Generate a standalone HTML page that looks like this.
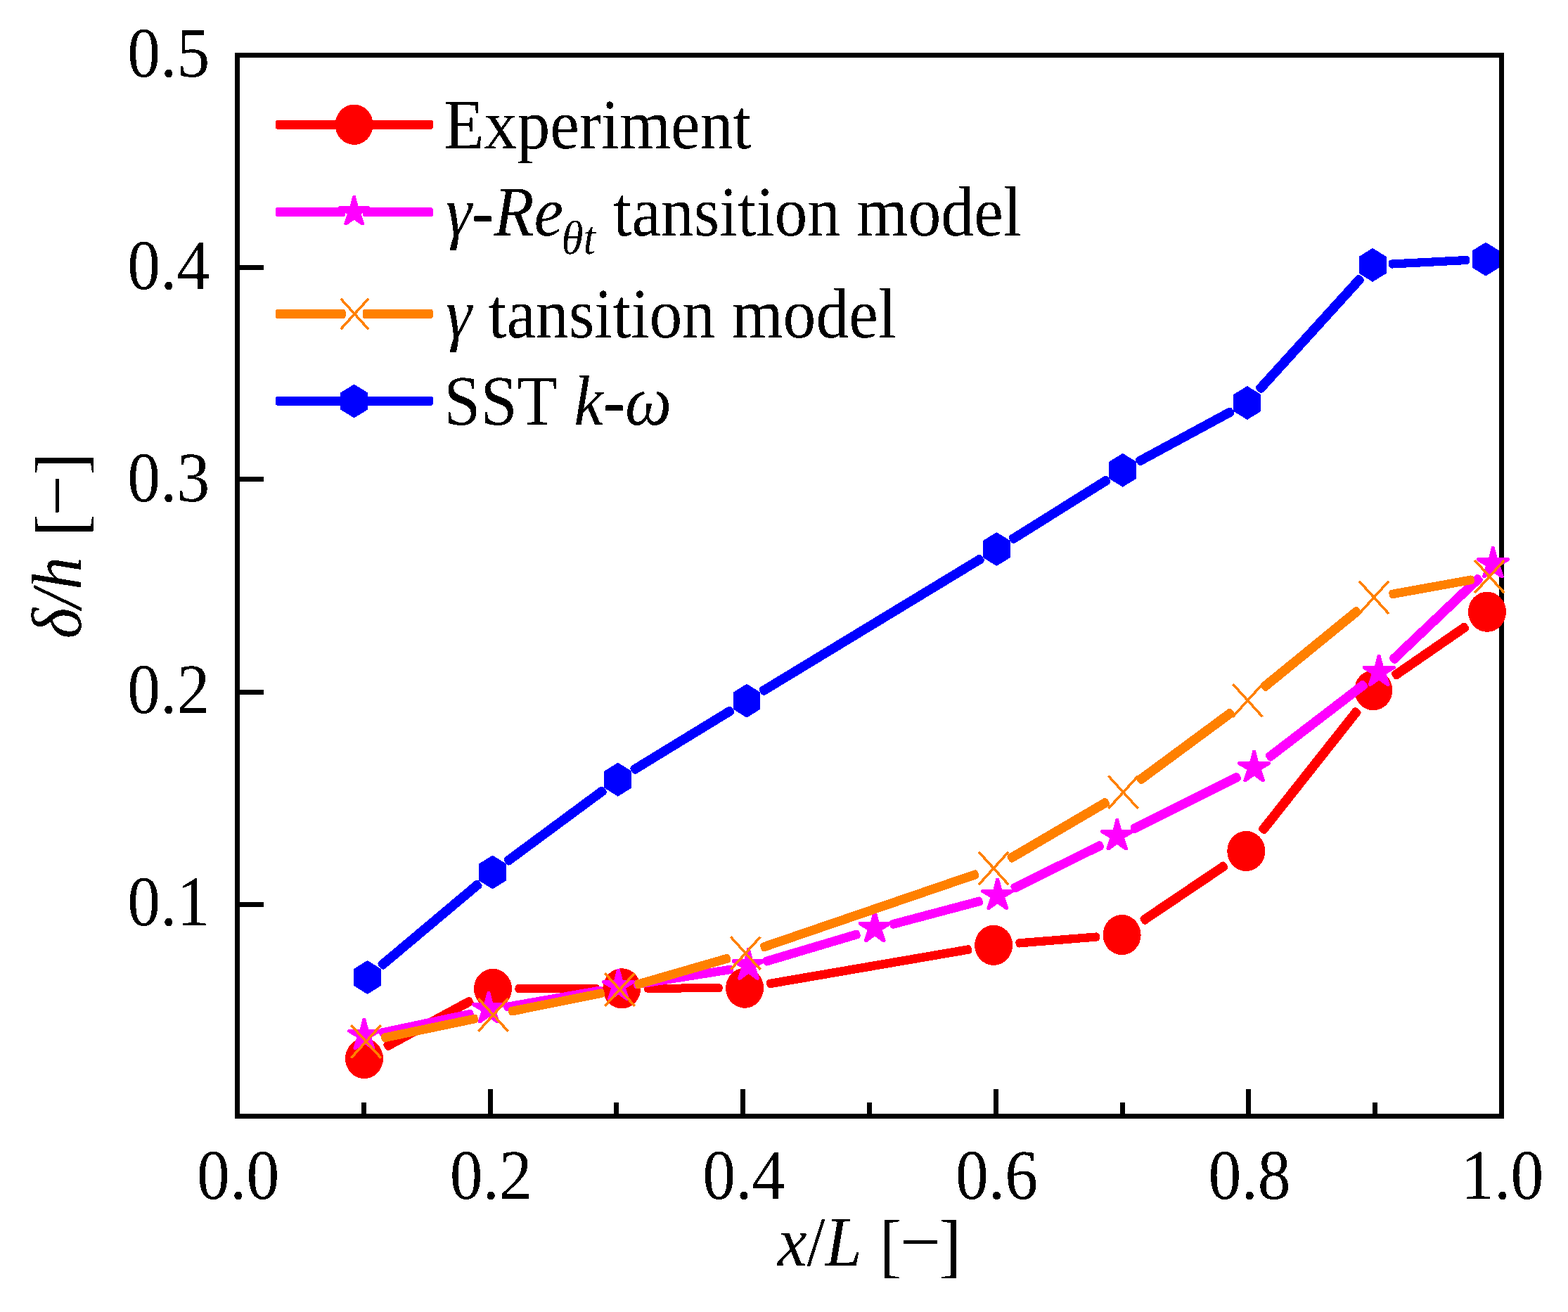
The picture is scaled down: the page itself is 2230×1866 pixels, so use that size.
<!DOCTYPE html>
<html lang="en"><head><meta charset="utf-8">
<title>Boundary layer thickness: experiment vs. transition models</title>
<style>
html,body{margin:0;padding:0;background:#fff;}
body{width:2230px;height:1866px;overflow:hidden;}
svg{display:block;}
text{font-family:"Liberation Serif","DejaVu Serif",serif;font-size:101px;fill:#000;font-kerning:none;text-rendering:geometricPrecision;}
.it{font-style:italic;}
.sub{font-size:68px;font-style:italic;}
</style></head><body>
<svg width="2230" height="1866" viewBox="0 0 2230 1866">
<defs><filter id="crisp" filterUnits="userSpaceOnUse" x="0" y="0" width="2230" height="1866" color-interpolation-filters="sRGB"><feComponentTransfer><feFuncA type="discrete" tableValues="0 1"/></feComponentTransfer></filter></defs>
<rect x="0" y="0" width="2230" height="1866" fill="#fff"/>
<g id="axes" shape-rendering="crispEdges" stroke="#000" stroke-width="7" fill="none">
<path d="M517.5 1587.5V1568M697.5 1587.5V1549M876.5 1587.5V1568M1056.5 1587.5V1549M1236.5 1587.5V1568M1416.5 1587.5V1549M1596.5 1587.5V1568M1775.5 1587.5V1549M1955.5 1587.5V1568M337.5 1286.5H375M337.5 984.5H375M337.5 681.5H375M337.5 380.5H375"/>
<rect x="337.5" y="78.5" width="1798" height="1509"/>
</g>
<g id="plot-data" shape-rendering="crispEdges">
<g id="series-experiment">
<rect x="546.9" y="1483.17" width="142.42" height="13.34" rx="4.6" fill="#ff0000" transform="rotate(-28.46 546.9 1489.84)"/>
<rect x="732.5" y="1400.21" width="120.3" height="12.01" rx="4.6" fill="#ff0000" transform="rotate(-0.16 732.5 1406.21)"/>
<rect x="915.8" y="1399.69" width="111.8" height="12.01" rx="4.6" fill="#ff0000" transform="rotate(-0.2 915.8 1405.69)"/>
<rect x="1090.29" y="1393.57" width="295.9" height="12.53" rx="4.6" fill="#ff0000" transform="rotate(-9.76 1090.29 1399.83)"/>
<rect x="1444.53" y="1335.64" width="120.02" height="12.26" rx="4.6" fill="#ff0000" transform="rotate(-4.61 1444.53 1341.77)"/>
<rect x="1623.39" y="1304.13" width="146.07" height="13.48" rx="4.6" fill="#ff0000" transform="rotate(-33.98 1623.39 1310.87)"/>
<rect x="1793.48" y="1176.95" width="223.48" height="13.56" rx="4.6" fill="#ff0000" transform="rotate(-51.65 1793.48 1183.73)"/>
<rect x="1980.95" y="955.89" width="129.24" height="13.5" rx="4.6" fill="#ff0000" transform="rotate(-34.59 1980.95 962.63)"/>
<ellipse cx="518" cy="1505.5" rx="27" ry="28.6" fill="#ff0000"/>
<ellipse cx="701" cy="1406.3" rx="27" ry="28.6" fill="#ff0000"/>
<ellipse cx="884.3" cy="1405.8" rx="27" ry="28.6" fill="#ff0000"/>
<ellipse cx="1059.1" cy="1405.2" rx="27" ry="28.6" fill="#ff0000"/>
<ellipse cx="1413.1" cy="1344.3" rx="27" ry="28.6" fill="#ff0000"/>
<ellipse cx="1595.6" cy="1329.6" rx="27" ry="28.6" fill="#ff0000"/>
<ellipse cx="1772.3" cy="1210.5" rx="27" ry="28.6" fill="#ff0000"/>
<ellipse cx="1953.3" cy="981.7" rx="27" ry="28.6" fill="#ff0000"/>
<ellipse cx="2115" cy="870.2" rx="27" ry="28.6" fill="#ff0000"/>
</g>
<g id="series-gamma-retheta">
<rect x="539.27" y="1463.25" width="137.24" height="12.65" rx="4.6" fill="#ff00ff" transform="rotate(-11.96 539.27 1469.57)"/>
<rect x="716.37" y="1426.56" width="143.82" height="12.54" rx="4.6" fill="#ff00ff" transform="rotate(-9.95 716.37 1432.83)"/>
<rect x="901.01" y="1394.53" width="143.76" height="12.5" rx="4.6" fill="#ff00ff" transform="rotate(-9.03 901.01 1400.78)"/>
<rect x="1085.56" y="1362.09" width="143.54" height="12.88" rx="4.6" fill="#ff00ff" transform="rotate(-16.58 1085.56 1368.53)"/>
<rect x="1265.39" y="1309.28" width="136.69" height="12.79" rx="4.6" fill="#ff00ff" transform="rotate(-14.86 1265.39 1315.68)"/>
<rect x="1438.79" y="1258.39" width="145.03" height="13.27" rx="4.6" fill="#ff00ff" transform="rotate(-26.39 1438.79 1265.03)"/>
<rect x="1608.87" y="1173.93" width="172.87" height="13.28" rx="4.6" fill="#ff00ff" transform="rotate(-26.54 1608.87 1180.57)"/>
<rect x="1802.06" y="1072.38" width="177.24" height="13.54" rx="4.6" fill="#ff00ff" transform="rotate(-37.46 1802.06 1079.15)"/>
<rect x="1978.54" y="933.96" width="175.6" height="13.6" rx="4.6" fill="#ff00ff" transform="rotate(-43.48 1978.54 940.76)"/>
<polygon points="515.9,1447.6 519.9,1447.6 524.1,1463.7 540.1,1463.7 541.5,1465 541.5,1467.4 539.9,1468.8 528.4,1475.6 533.4,1490.6 532.2,1492.8 529.2,1492.8 517.9,1484.6 506.6,1492.8 503.6,1492.8 502.4,1490.6 507.4,1475.6 495.9,1468.8 494.3,1467.4 494.3,1465 495.7,1463.7 511.7,1463.7" fill="#ff00ff"/>
<polygon points="692.9,1410.1 696.9,1410.1 701.1,1426.2 717.1,1426.2 718.5,1427.5 718.5,1429.9 716.9,1431.3 705.4,1438.1 710.4,1453.1 709.2,1455.3 706.2,1455.3 694.9,1447.1 683.6,1455.3 680.6,1455.3 679.4,1453.1 684.4,1438.1 672.9,1431.3 671.3,1429.9 671.3,1427.5 672.7,1426.2 688.7,1426.2" fill="#ff00ff"/>
<polygon points="877.5,1377.7 881.5,1377.7 885.7,1393.8 901.7,1393.8 903.1,1395.1 903.1,1397.5 901.5,1398.9 890,1405.7 895,1420.7 893.8,1422.9 890.8,1422.9 879.5,1414.7 868.2,1422.9 865.2,1422.9 864,1420.7 869,1405.7 857.5,1398.9 855.9,1397.5 855.9,1395.1 857.3,1393.8 873.3,1393.8" fill="#ff00ff"/>
<polygon points="1062.5,1348.3 1066.5,1348.3 1070.7,1364.4 1086.7,1364.4 1088.1,1365.7 1088.1,1368.1 1086.5,1369.5 1075,1376.3 1080,1391.3 1078.8,1393.5 1075.8,1393.5 1064.5,1385.3 1053.2,1393.5 1050.2,1393.5 1049,1391.3 1054,1376.3 1042.5,1369.5 1040.9,1368.1 1040.9,1365.7 1042.3,1364.4 1058.3,1364.4" fill="#ff00ff"/>
<polygon points="1242.2,1294.8 1246.2,1294.8 1250.4,1310.9 1266.4,1310.9 1267.8,1312.2 1267.8,1314.6 1266.2,1316 1254.7,1322.8 1259.7,1337.8 1258.5,1340 1255.5,1340 1244.2,1331.8 1232.9,1340 1229.9,1340 1228.7,1337.8 1233.7,1322.8 1222.2,1316 1220.6,1314.6 1220.6,1312.2 1222,1310.9 1238,1310.9" fill="#ff00ff"/>
<polygon points="1416.7,1248.5 1420.7,1248.5 1424.9,1264.6 1440.9,1264.6 1442.3,1265.9 1442.3,1268.3 1440.7,1269.7 1429.2,1276.5 1434.2,1291.5 1433,1293.7 1430,1293.7 1418.7,1285.5 1407.4,1293.7 1404.4,1293.7 1403.2,1291.5 1408.2,1276.5 1396.7,1269.7 1395.1,1268.3 1395.1,1265.9 1396.5,1264.6 1412.5,1264.6" fill="#ff00ff"/>
<polygon points="1586.8,1164.1 1590.8,1164.1 1595,1180.2 1611,1180.2 1612.4,1181.5 1612.4,1183.9 1610.8,1185.3 1599.3,1192.1 1604.3,1207.1 1603.1,1209.3 1600.1,1209.3 1588.8,1201.1 1577.5,1209.3 1574.5,1209.3 1573.3,1207.1 1578.3,1192.1 1566.8,1185.3 1565.2,1183.9 1565.2,1181.5 1566.6,1180.2 1582.6,1180.2" fill="#ff00ff"/>
<polygon points="1781.6,1066.8 1785.6,1066.8 1789.8,1082.9 1805.8,1082.9 1807.2,1084.2 1807.2,1086.6 1805.6,1088 1794.1,1094.8 1799.1,1109.8 1797.9,1112 1794.9,1112 1783.6,1103.8 1772.3,1112 1769.3,1112 1768.1,1109.8 1773.1,1094.8 1761.6,1088 1760,1086.6 1760,1084.2 1761.4,1082.9 1777.4,1082.9" fill="#ff00ff"/>
<polygon points="1959.2,930.7 1963.2,930.7 1967.4,946.8 1983.4,946.8 1984.8,948.1 1984.8,950.5 1983.2,951.9 1971.7,958.7 1976.7,973.7 1975.5,975.9 1972.5,975.9 1961.2,967.7 1949.9,975.9 1946.9,975.9 1945.7,973.7 1950.7,958.7 1939.2,951.9 1937.6,950.5 1937.6,948.1 1939,946.8 1955,946.8" fill="#ff00ff"/>
<polygon points="2121.3,777 2125.3,777 2129.5,793.1 2145.5,793.1 2146.9,794.4 2146.9,796.8 2145.3,798.2 2133.8,805 2138.8,820 2137.6,822.2 2134.6,822.2 2123.3,814 2112,822.2 2109,822.2 2107.8,820 2112.8,805 2101.3,798.2 2099.7,796.8 2099.7,794.4 2101.1,793.1 2117.1,793.1" fill="#ff00ff"/>
</g>
<g id="series-gamma">
<rect x="542.28" y="1470.45" width="140.5" height="12.64" rx="4.6" fill="#ff8000" transform="rotate(-11.8 542.28 1476.77)"/>
<rect x="723.19" y="1432.84" width="139.24" height="12.62" rx="4.6" fill="#ff8000" transform="rotate(-11.35 723.19 1439.15)"/>
<rect x="902.98" y="1394.74" width="141.29" height="12.85" rx="4.6" fill="#ff8000" transform="rotate(-16.12 902.98 1401.16)"/>
<rect x="1081.8" y="1341.85" width="327.46" height="12.98" rx="4.6" fill="#ff8000" transform="rotate(-18.9 1081.8 1348.34)"/>
<rect x="1434.11" y="1215.89" width="165.04" height="13.4" rx="4.6" fill="#ff8000" transform="rotate(-30.38 1434.11 1222.58)"/>
<rect x="1618.15" y="1104.79" width="168.56" height="13.53" rx="4.6" fill="#ff8000" transform="rotate(-36.44 1618.15 1111.56)"/>
<rect x="1794.85" y="972.73" width="178.98" height="13.57" rx="4.6" fill="#ff8000" transform="rotate(-39.2 1794.85 979.52)"/>
<rect x="1975.71" y="839.5" width="122.93" height="12.56" rx="4.6" fill="#ff8000" transform="rotate(-10.24 1975.71 845.78)"/>
<path d="M500.7 1459.4L540.5 1503.2M540.5 1459.4L500.7 1503.2" fill="none" stroke="#ff8000" stroke-width="3.6" stroke-linecap="square"/>
<path d="M681.6 1421.6L721.4 1465.4M721.4 1421.6L681.6 1465.4" fill="none" stroke="#ff8000" stroke-width="3.6" stroke-linecap="square"/>
<path d="M861.5 1385.5L901.3 1429.3M901.3 1385.5L861.5 1429.3" fill="none" stroke="#ff8000" stroke-width="3.6" stroke-linecap="square"/>
<path d="M1040.4 1333.8L1080.2 1377.6M1080.2 1333.8L1040.4 1377.6" fill="none" stroke="#ff8000" stroke-width="3.6" stroke-linecap="square"/>
<path d="M1393.2 1213L1433 1256.8M1433 1213L1393.2 1256.8" fill="none" stroke="#ff8000" stroke-width="3.6" stroke-linecap="square"/>
<path d="M1577.6 1104.9L1617.4 1148.7M1617.4 1104.9L1577.6 1148.7" fill="none" stroke="#ff8000" stroke-width="3.6" stroke-linecap="square"/>
<path d="M1754.5 974.3L1794.3 1018.1M1794.3 974.3L1754.5 1018.1" fill="none" stroke="#ff8000" stroke-width="3.6" stroke-linecap="square"/>
<path d="M1934.1 827.8L1973.9 871.6M1973.9 827.8L1934.1 871.6" fill="none" stroke="#ff8000" stroke-width="3.6" stroke-linecap="square"/>
<path d="M2098.5 798.1L2138.3 841.9M2138.3 798.1L2098.5 841.9" fill="none" stroke="#ff8000" stroke-width="3.6" stroke-linecap="square"/>
</g>
<g id="series-sst">
<rect x="539.88" y="1368.61" width="187.05" height="13.58" rx="4.6" fill="#0000ff" transform="rotate(-40.03 539.88 1375.4)"/>
<rect x="718.75" y="1220.24" width="176.33" height="13.53" rx="4.6" fill="#0000ff" transform="rotate(-36.47 718.75 1227.01)"/>
<rect x="898.17" y="1090.15" width="169.32" height="13.42" rx="4.6" fill="#0000ff" transform="rotate(-31.44 898.17 1096.86)"/>
<rect x="1081.41" y="978.21" width="370.34" height="13.42" rx="4.6" fill="#0000ff" transform="rotate(-31.25 1081.41 984.92)"/>
<rect x="1436.64" y="762.23" width="166.17" height="13.44" rx="4.6" fill="#0000ff" transform="rotate(-32.06 1436.64 768.95)"/>
<rect x="1616.67" y="651.24" width="155.9" height="13.34" rx="4.6" fill="#0000ff" transform="rotate(-28.39 1616.67 657.91)"/>
<rect x="1789.07" y="549.41" width="219.64" height="13.59" rx="4.6" fill="#0000ff" transform="rotate(-47.72 1789.07 556.2)"/>
<rect x="1974.77" y="369.65" width="115.71" height="12.16" rx="4.6" fill="#0000ff" transform="rotate(-2.95 1974.77 375.73)"/>
<polygon points="522.5,1366 541.9,1378 541.9,1402 522.5,1414 503.1,1402 503.1,1378" fill="#0000ff"/>
<polygon points="700.5,1216.5 719.9,1228.5 719.9,1252.5 700.5,1264.5 681.1,1252.5 681.1,1228.5" fill="#0000ff"/>
<polygon points="878.8,1084.7 898.2,1096.7 898.2,1120.7 878.8,1132.7 859.4,1120.7 859.4,1096.7" fill="#0000ff"/>
<polygon points="1062,972.7 1081.4,984.7 1081.4,1008.7 1062,1020.7 1042.6,1008.7 1042.6,984.7" fill="#0000ff"/>
<polygon points="1417.4,757 1436.8,769 1436.8,793 1417.4,805 1398,793 1398,769" fill="#0000ff"/>
<polygon points="1596.7,644.7 1616.1,656.7 1616.1,680.7 1596.7,692.7 1577.3,680.7 1577.3,656.7" fill="#0000ff"/>
<polygon points="1773.8,549 1793.2,561 1793.2,585 1773.8,597 1754.4,585 1754.4,561" fill="#0000ff"/>
<polygon points="1952.1,352.9 1971.5,364.9 1971.5,388.9 1952.1,400.9 1932.7,388.9 1932.7,364.9" fill="#0000ff"/>
<polygon points="2113,344.6 2132.4,356.6 2132.4,380.6 2113,392.6 2093.6,380.6 2093.6,356.6" fill="#0000ff"/>
</g>
</g>
<g id="legend" shape-rendering="crispEdges">
<rect x="391.8" y="170.75" width="224.2" height="13.1" rx="3.6" fill="#ff0000"/>
<ellipse cx="503.6" cy="177.3" rx="27" ry="28.6" fill="#ff0000"/>
<rect x="391.8" y="295.05" width="99.5" height="13.1" rx="3.6" fill="#ff00ff"/><rect x="515.9" y="295.05" width="100.1" height="13.1" rx="3.6" fill="#ff00ff"/>
<polygon points="501.71,277.76 505.49,277.76 509.46,292.97 524.58,292.97 525.9,294.2 525.9,296.47 524.39,297.79 513.52,304.22 518.25,318.39 517.11,320.47 514.28,320.47 503.6,312.72 492.92,320.47 490.09,320.47 488.95,318.39 493.68,304.22 482.81,297.79 481.3,296.47 481.3,294.2 482.62,292.97 497.74,292.97" fill="#ff00ff"/>
<rect x="391.8" y="439.95" width="99.8" height="13.1" rx="3.6" fill="#ff8000"/><rect x="515.6" y="439.95" width="100.4" height="13.1" rx="3.6" fill="#ff8000"/>
<path d="M485.79 426.13L522.81 466.87M522.81 426.13L485.79 466.87" fill="none" stroke="#ff8000" stroke-width="3.6" stroke-linecap="square"/>
<rect x="391.8" y="563.65" width="224.2" height="13.1" rx="3.6" fill="#0000ff"/>
<polygon points="503.6,546.5 523,558.5 523,582.5 503.6,594.5 484.2,582.5 484.2,558.5" fill="#0000ff"/>
<g id="legend-labels" filter="url(#crisp)">
<text transform="translate(631.3 211.2) scale(0.928 1)" text-anchor="start">Experiment</text>
<text transform="translate(634 334.8) scale(0.928 1)" text-anchor="start"><tspan class="it">γ</tspan>-<tspan class="it">Re</tspan><tspan class="sub" dx="-2.7" dy="26.6">θt</tspan><tspan dx="2" dy="-26.6"> tansition model</tspan></text>
<text transform="translate(634 480.2) scale(0.928 1)" text-anchor="start"><tspan class="it">γ</tspan> tansition model</text>
<text transform="translate(631.3 604) scale(0.928 1)" text-anchor="start">SST <tspan class="it">k</tspan>-<tspan class="it">ω</tspan></text>
</g>
</g>
<g id="tick-labels" filter="url(#crisp)">
<text transform="translate(338.7 1705.3) scale(0.928 1)" text-anchor="middle">0.0</text>
<text transform="translate(698.3 1705.3) scale(0.928 1)" text-anchor="middle">0.2</text>
<text transform="translate(1057.9 1705.3) scale(0.928 1)" text-anchor="middle">0.4</text>
<text transform="translate(1417.5 1705.3) scale(0.928 1)" text-anchor="middle">0.6</text>
<text transform="translate(1777.1 1705.3) scale(0.928 1)" text-anchor="middle">0.8</text>
<text transform="translate(2136.7 1705.3) scale(0.928 1)" text-anchor="middle">1.0</text>
<text transform="translate(181.2 1316.2) scale(0.928 1)" text-anchor="start">0.1</text>
<text transform="translate(181.2 1014.4) scale(0.928 1)" text-anchor="start">0.2</text>
<text transform="translate(181.2 712.6) scale(0.928 1)" text-anchor="start">0.3</text>
<text transform="translate(181.2 410.8) scale(0.928 1)" text-anchor="start">0.4</text>
<text transform="translate(181.2 109) scale(0.928 1)" text-anchor="start">0.5</text>
</g>
<g id="axis-titles" filter="url(#crisp)">
<text transform="translate(1106 1800) scale(0.928 1)" text-anchor="start"><tspan class="it">x</tspan>/<tspan class="it">L</tspan><tspan dx="1.6" dy="5"> [</tspan><tspan dx="-2.6" dy="-5" textLength="62.6" lengthAdjust="spacingAndGlyphs">−</tspan><tspan dx="-2.2" dy="5">]</tspan></text>
<text transform="translate(114.7 908.4) rotate(-90) scale(0.928 1)" text-anchor="start"><tspan class="it">δ/h</tspan><tspan dx="6.3" dy="5"> [</tspan><tspan dx="-2.6" dy="-5" textLength="62.6" lengthAdjust="spacingAndGlyphs">−</tspan><tspan dx="0.2" dy="5">]</tspan></text>
</g>
</svg>
</body></html>
